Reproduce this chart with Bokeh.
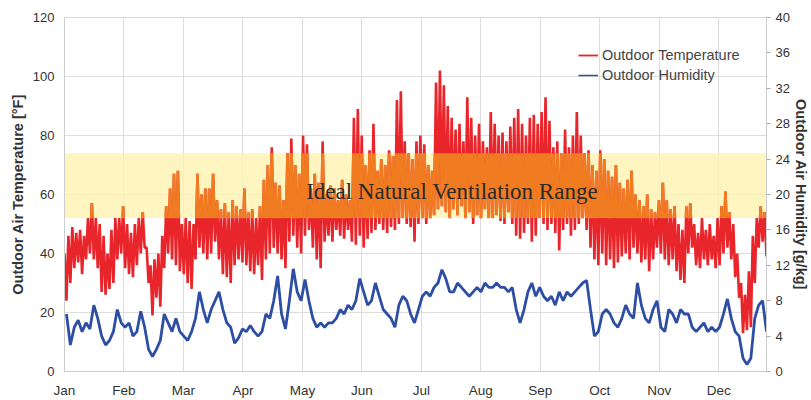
import numpy as np
from bokeh.plotting import figure
from bokeh.models import (Range1d, LinearAxis, FixedTicker, BoxAnnotation, Label,
                          Legend, LegendItem)
from bokeh.embed import file_html
from bokeh.resources import INLINE

# ---------------- data ----------------
months = ["Jan", "Feb", "Mar", "Apr", "May", "Jun", "Jul", "Aug", "Sep", "Oct", "Nov", "Dec"]
step_days = 2  # each entry below covers 2 days

# outdoor temperature [F]: high and low of each 2-day step
temp_high = [40, 46, 49, 47, 48, 46, 52, 57, 52, 50, 46, 40, 48, 52, 52, 56, 50, 47, 50, 52,
             54, 42, 36, 38, 40, 46, 56, 62, 67, 68, 50, 52, 51, 50, 67, 60, 62,
             62, 67, 58, 55, 57, 54, 58, 56, 55, 62, 54, 55, 52, 56, 65, 70, 76, 64, 63, 58,
             74, 79, 70, 67, 80, 77, 62, 67, 64, 78, 60, 63, 62, 58, 65, 60,
             58, 86, 89, 80, 70, 75, 84, 68, 72, 70, 75, 73, 92, 95, 78, 74, 72, 78, 80, 77,
             70, 68, 98, 102, 97, 90, 86, 82, 84, 78, 93, 86, 80, 84, 78, 76,
             88, 84, 80, 81, 78, 83, 86, 89, 84, 80, 86, 87, 84, 88, 93, 85, 76, 78, 74, 82,
             76, 80, 88, 80, 74, 75, 70, 68, 75, 72, 68, 66, 70, 64, 62, 65,
             68, 60, 58, 56, 60, 55, 54, 58, 64, 58, 55, 56, 50, 48, 56, 57, 50, 47, 52, 48,
             50, 46, 52, 56, 61, 54, 50, 40, 30, 26, 34, 46, 52, 56, 54]
temp_low = [24, 30, 35, 37, 33, 38, 40, 38, 35, 27, 26, 28, 30, 38, 40, 35, 33, 32, 36, 40,
            42, 30, 19, 25, 22, 35, 40, 38, 36, 34, 33, 30, 28, 38, 42, 40, 38,
            40, 44, 38, 33, 32, 30, 36, 38, 37, 36, 34, 33, 36, 31, 38, 40, 42, 40, 38, 35,
            44, 46, 42, 40, 46, 48, 42, 38, 35, 44, 46, 44, 48, 46, 45, 48,
            44, 43, 46, 42, 45, 47, 48, 50, 48, 47, 49, 48, 50, 52, 50, 49, 44, 50, 52, 50,
            52, 53, 55, 56, 54, 52, 55, 53, 56, 52, 54, 50, 53, 52, 55, 52,
            52, 53, 51, 50, 54, 50, 46, 45, 47, 50, 44, 46, 52, 50, 48, 50, 47, 41, 48, 50,
            46, 48, 50, 52, 48, 42, 38, 36, 40, 36, 38, 35, 37, 39, 40, 38,
            42, 40, 37, 38, 34, 38, 42, 40, 38, 36, 38, 34, 31, 30, 40, 42, 36, 35, 38, 36,
            38, 35, 36, 40, 42, 38, 32, 25, 13, 14, 15, 30, 42, 44, 39]

# outdoor humidity [g/kg], one value per 2-day step
humidity = [6.5, 3, 5, 5.8, 4.5, 5.5, 4.8, 7.5, 6, 4, 3, 3.5, 4.5, 7, 5.5, 5, 5.5, 4, 4.5, 6.8,
            5, 2.5, 1.7, 2.5, 3.5, 6.5, 5.5, 4.5, 6, 4.5, 4, 3.5, 4.5, 6, 9, 7, 5.5,
            7, 8, 9, 7, 5.5, 5, 3.2, 3.8, 4.8, 4.5, 5.2, 4.5, 4, 4.5, 6.5, 6, 8, 10.8, 6.5, 4.8,
            8, 11.6, 9, 8, 10.4, 8, 6, 5, 5.5, 5, 5.5, 5.5, 6, 7, 6.5, 7.5,
            7, 8, 10.5, 9, 7.5, 8, 10, 8.5, 7, 6.5, 6, 5, 7.5, 8.5, 8, 6.5, 5.5, 7, 8.5, 9,
            8.5, 9.5, 10, 11.5, 10.5, 9, 9, 10, 9.5, 9, 8.5, 9, 9.5, 9, 10, 9.5,
            9.5, 10, 9.5, 9.5, 9, 9.5, 7, 5.5, 7, 9, 10, 8.5, 9.5, 8.5, 8, 8.5, 7.5, 9, 8, 9,
            8.5, 9, 9.5, 10, 10.3, 7, 4, 4.5, 6.5, 7, 6.5, 5.5, 5, 6, 7.5, 6.5,
            6, 10, 7.5, 6, 5.5, 7, 8, 5, 4.5, 7, 6.5, 5.5, 7, 6.5, 6.5, 5, 4.5, 5, 5.5, 4.5,
            5, 4.5, 5, 6.5, 8.2, 6, 4.5, 4, 1.5, 0.8, 1.5, 6, 7.5, 8, 4.5]

band_low, band_high = 52, 74
band_text = "Ideal Natural Ventilation Range"
temp_label = "Outdoor Temperature"
hum_label = "Outdoor Humidity"

# ---------------- derived positions ----------------
DAYS_PER_MONTH = 365.0 / 12.0
n = len(temp_high)
day0 = np.arange(n) * step_days
tx = np.column_stack([day0, day0 + 1]).ravel() / DAYS_PER_MONTH
ty = np.column_stack([temp_high, temp_low]).ravel().astype(float)
hx = (day0 + 1) / DAYS_PER_MONTH
x_end = (day0[-1] + 1) / DAYS_PER_MONTH


def clip_to_band(x, y, lo, hi):
    """Portions of the polyline that lie inside [lo, hi], NaN-separated."""
    ox, oy = [], []
    for i in range(len(x) - 1):
        x0, y0, x1, y1 = x[i], y[i], x[i + 1], y[i + 1]
        dx, dy = x1 - x0, y1 - y0
        if dy == 0:
            if lo <= y0 <= hi:
                ta, tb = 0.0, 1.0
            else:
                continue
        else:
            ta, tb = sorted(((lo - y0) / dy, (hi - y0) / dy))
            ta, tb = max(ta, 0.0), min(tb, 1.0)
            if ta >= tb:
                continue
        ox += [x0 + ta * dx, x0 + tb * dx, np.nan]
        oy += [y0 + ta * dy, y0 + tb * dy, np.nan]
    return ox, oy


ox, oy = clip_to_band(tx, ty, band_low, band_high)

FONT = "Liberation Sans"
RED = "#e8252a"
ORANGE = "#f07b21"
BLUE = "#2d4ea3"

p = figure(width=811, height=400, x_range=Range1d(0, x_end), y_range=Range1d(0, 120),
           output_backend="svg", toolbar_location=None,
           min_border_left=64, min_border_right=45, min_border_top=17, min_border_bottom=27)
p.background_fill_color = "white"
p.border_fill_color = "white"
p.outline_line_color = "#d9d9d9"

p.extra_y_ranges = {"hum": Range1d(0, 40)}

# grid
p.xgrid.ticker = FixedTicker(ticks=list(range(12)))
p.ygrid.ticker = FixedTicker(ticks=list(range(0, 121, 20)))
for g in (p.xgrid, p.ygrid):
    g.grid_line_color = "#dddddd"
    g.grid_line_width = 1

# ideal range band (pale yellow, beneath the lines)
band = BoxAnnotation(bottom=band_low, top=band_high, fill_color="#fff3b0", fill_alpha=0.8,
                     line_color=None, line_alpha=0, level="underlay")
p.add_layout(band)

# x axis
xa = p.xaxis[0]
xa.ticker = FixedTicker(ticks=list(range(12)))
xa.major_label_overrides = {i: m for i, m in enumerate(months)}
xa.major_tick_out = 0
xa.major_tick_in = 0
xa.minor_tick_out = 0
xa.minor_tick_in = 0
xa.axis_line_color = "#cccccc"
xa.major_label_standoff = 11
xa.major_label_text_font = FONT
xa.major_label_text_font_size = "13.5px"
xa.major_label_text_color = "#333333"

# left axis
ya = p.yaxis[0]
ya.ticker = FixedTicker(ticks=list(range(0, 121, 20)))
ya.axis_label = "Outdoor Air Temperature [\u00b0F]"
ya.axis_label_text_font = FONT
ya.axis_label_text_font_style = "bold"
ya.axis_label_text_font_size = "14.5px"
ya.axis_label_text_color = "#333333"
ya.axis_label_standoff = 4
ya.major_tick_out = 0
ya.major_tick_in = 0
ya.minor_tick_out = 0
ya.minor_tick_in = 0
ya.axis_line_color = "#cccccc"
ya.major_label_standoff = 10
ya.major_label_text_font = FONT
ya.major_label_text_font_size = "13px"
ya.major_label_text_color = "#333333"

# right axis
ra = LinearAxis(y_range_name="hum", ticker=FixedTicker(ticks=list(range(0, 41, 4))),
                axis_label="Outdoor Air Humidity [g/kg]")
ra.axis_label_text_font = FONT
ra.axis_label_text_font_style = "bold"
ra.axis_label_text_font_size = "14.5px"
ra.axis_label_text_color = "#333333"
ra.axis_label_standoff = 0
ra.major_tick_out = 4
ra.major_tick_in = 0
ra.minor_tick_out = 0
ra.minor_tick_in = 0
ra.major_tick_line_color = "#aaaaaa"
ra.axis_line_color = "#cccccc"
ra.major_label_standoff = 5
ra.major_label_text_font = FONT
ra.major_label_text_font_size = "13px"
ra.major_label_text_color = "#333333"
p.add_layout(ra, "right")

# series
p.line(tx, ty, line_color=RED, line_width=2.6)
p.line(ox, oy, line_color=ORANGE, line_width=2.6)
p.line(hx, humidity, line_color=BLUE, line_width=2.8, y_range_name="hum")

# thinner stand-ins (no visible data) used only for the legend samples
leg_t = p.line([np.nan], [np.nan], line_color=RED, line_width=1.8)
leg_h = p.line([np.nan], [np.nan], line_color=BLUE, line_width=1.5, y_range_name="hum")

lab = Label(x=198.2 / DAYS_PER_MONTH, y=61, text=band_text, text_align="center",
            text_baseline="alphabetic", text_font="Liberation Serif",
            text_font_size="23px", text_color="#2a2a2a")
p.add_layout(lab)

legend = Legend(items=[LegendItem(label=temp_label, renderers=[leg_t]),
                       LegendItem(label=hum_label, renderers=[leg_h])],
                location=(514, 286), margin=0, padding=0, spacing=0,
                glyph_width=20, glyph_height=20, label_height=20, label_standoff=4,
                border_line_color=None, background_fill_alpha=0,
                label_text_font=FONT, label_text_font_size="14.5px",
                label_text_color="#444444")
p.add_layout(legend)

open("out.html", "w").write(file_html(p, INLINE))
